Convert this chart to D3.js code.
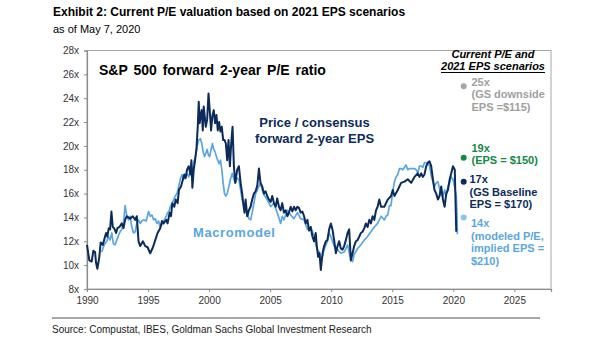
<!DOCTYPE html>
<html>
<head>
<meta charset="utf-8">
<script src="https://cdn.jsdelivr.net/npm/d3@7"></script>
<style>
  body { margin: 0; background: #fff; }
  text { font-family: "Liberation Sans", Arial, sans-serif; }
</style>
</head>
<body>
<svg id="chart" width="605" height="341"></svg>
<script>
// forward 2-year P/E: price / consensus EPS, [year, P/E]
var consensusPE = [
  [1990.00, 11.7], [1990.19, 10.4], [1990.38, 10.3], [1990.52, 11.2], [1990.66, 11.1], [1990.74, 10.2],
  [1990.85, 9.7], [1991.01, 10.7], [1991.12, 11.9], [1991.29, 11.7], [1991.40, 12.1], [1991.56, 12.7],
  [1991.67, 12.4], [1991.78, 13.1], [1991.89, 13.0], [1992.00, 14.5], [1992.11, 13.2], [1992.22, 13.1],
  [1992.38, 12.7], [1992.49, 13.1], [1992.66, 13.2], [1992.85, 13.5], [1992.99, 13.1], [1993.12, 13.8],
  [1993.26, 14.1], [1993.53, 13.9], [1993.75, 14.1], [1993.95, 13.8], [1994.08, 14.1], [1994.22, 12.0],
  [1994.36, 11.6], [1994.58, 12.0], [1994.77, 11.6], [1994.96, 11.5], [1995.18, 11.0], [1995.40, 11.5],
  [1995.59, 12.1], [1995.78, 12.7], [1996.00, 13.1], [1996.14, 13.7], [1996.27, 13.5], [1996.49, 13.8],
  [1996.60, 13.5], [1996.77, 14.4], [1996.88, 14.1], [1996.99, 15.2], [1997.15, 14.9], [1997.26, 15.5],
  [1997.42, 15.2], [1997.53, 16.3], [1997.70, 16.6], [1997.86, 17.2], [1997.97, 17.6], [1998.08, 17.3],
  [1998.19, 18.0], [1998.33, 18.3], [1998.47, 17.6], [1998.55, 18.8], [1998.63, 16.5], [1998.74, 18.0],
  [1998.85, 18.8], [1998.96, 19.7], [1999.07, 21.6], [1999.15, 23.7], [1999.23, 21.9], [1999.32, 22.7],
  [1999.40, 23.0], [1999.48, 21.3], [1999.56, 23.3], [1999.64, 22.5], [1999.73, 21.6], [1999.84, 22.2],
  [1999.95, 24.4], [2000.05, 23.0], [2000.16, 21.3], [2000.27, 22.5], [2000.38, 23.0], [2000.49, 21.9],
  [2000.60, 22.6], [2000.71, 21.3], [2000.82, 22.0], [2000.93, 21.2], [2001.04, 21.6], [2001.15, 20.5],
  [2001.26, 20.5], [2001.37, 20.2], [2001.48, 18.8], [2001.59, 20.5], [2001.70, 18.3], [2001.81, 20.2],
  [2001.92, 21.6], [2002.03, 18.3], [2002.14, 16.9], [2002.30, 18.0], [2002.44, 18.3], [2002.58, 16.9],
  [2002.71, 16.0], [2002.79, 15.2], [2002.90, 14.4], [2002.99, 15.5], [2003.12, 14.1], [2003.26, 14.6],
  [2003.40, 14.9], [2003.53, 15.5], [2003.67, 16.0], [2003.81, 16.2], [2003.95, 16.7], [2004.08, 18.1],
  [2004.21, 16.9], [2004.35, 16.6], [2004.49, 16.0], [2004.62, 16.2], [2004.76, 15.8], [2004.90, 15.5],
  [2005.04, 15.3], [2005.17, 15.8], [2005.31, 15.2], [2005.45, 14.9], [2005.58, 15.6], [2005.72, 14.9],
  [2005.86, 14.6], [2005.99, 15.2], [2006.13, 14.4], [2006.27, 14.6], [2006.41, 14.1], [2006.54, 14.4],
  [2006.68, 14.9], [2006.82, 14.5], [2006.95, 14.9], [2007.09, 14.6], [2007.23, 14.9], [2007.36, 14.8],
  [2007.50, 14.4], [2007.64, 14.5], [2007.78, 14.1], [2007.91, 13.5], [2008.05, 13.8], [2008.19, 12.9],
  [2008.32, 13.2], [2008.46, 12.4], [2008.60, 12.0], [2008.73, 12.7], [2008.82, 11.6], [2008.93, 10.7],
  [2009.04, 11.0], [2009.15, 9.6], [2009.23, 10.4], [2009.31, 11.1], [2009.42, 11.6], [2009.56, 12.0],
  [2009.69, 12.1], [2009.83, 13.0], [2009.97, 13.5], [2010.10, 13.0], [2010.24, 12.1], [2010.38, 11.0],
  [2010.52, 11.6], [2010.65, 12.0], [2010.79, 11.4], [2010.93, 11.3], [2011.06, 11.6], [2011.20, 12.1],
  [2011.34, 12.7], [2011.47, 13.0], [2011.61, 10.4], [2011.75, 11.0], [2011.88, 11.6], [2012.02, 12.0],
  [2012.16, 12.1], [2012.30, 12.4], [2012.43, 12.7], [2012.57, 12.8], [2012.71, 13.1], [2012.84, 13.5],
  [2012.98, 13.2], [2013.12, 13.8], [2013.25, 13.5], [2013.39, 14.1], [2013.53, 13.8], [2013.67, 14.6],
  [2013.80, 14.9], [2013.94, 15.5], [2014.08, 14.9], [2014.35, 14.9], [2014.63, 15.5], [2014.90, 15.8],
  [2015.04, 16.3], [2015.18, 15.8], [2015.45, 16.3], [2015.72, 16.9], [2016.00, 17.0], [2016.27, 17.2],
  [2016.55, 16.9], [2016.82, 17.4], [2017.09, 17.7], [2017.23, 17.4], [2017.37, 17.7], [2017.50, 17.4],
  [2017.64, 17.6], [2017.78, 18.3], [2017.92, 18.6], [2018.05, 18.7], [2018.19, 18.3], [2018.33, 17.2],
  [2018.46, 16.3], [2018.60, 16.0], [2018.74, 15.5], [2018.87, 15.8], [2019.01, 16.6], [2019.15, 15.5],
  [2019.29, 14.9], [2019.42, 16.0], [2019.56, 16.3], [2019.70, 17.2], [2019.83, 17.7], [2019.97, 18.3],
  [2020.12, 18.0], [2020.24, 12.8]
];

// macro model P/E, [year, P/E]
var macroPE = [
  [1991.21, 11.1], [1991.40, 11.7], [1991.62, 12.0], [1991.75, 12.4], [1991.89, 12.1], [1992.03, 12.7],
  [1992.16, 11.8], [1992.30, 11.7], [1992.44, 12.1], [1992.66, 12.7], [1992.85, 13.0], [1992.99, 13.5],
  [1993.12, 15.0], [1993.26, 14.1], [1993.40, 13.8], [1993.53, 14.1], [1993.67, 13.2], [1993.81, 12.7],
  [1993.95, 12.8], [1994.08, 13.5], [1994.22, 13.8], [1994.36, 13.5], [1994.49, 13.7], [1994.63, 13.8],
  [1994.85, 13.7], [1995.04, 14.5], [1995.18, 14.1], [1995.32, 14.2], [1995.45, 13.8], [1995.59, 13.9],
  [1995.73, 13.5], [1995.86, 13.7], [1996.00, 13.2], [1996.14, 13.4], [1996.33, 13.8], [1996.49, 14.1],
  [1996.60, 14.4], [1996.71, 14.5], [1996.82, 14.9], [1996.96, 15.2], [1997.10, 15.5], [1997.23, 15.8],
  [1997.37, 16.0], [1997.51, 16.6], [1997.64, 17.2], [1997.78, 17.6], [1997.92, 17.2], [1998.05, 17.4],
  [1998.19, 17.7], [1998.33, 17.4], [1998.47, 17.9], [1998.60, 17.7], [1998.74, 18.6], [1998.88, 19.1],
  [1999.01, 19.9], [1999.15, 20.5], [1999.29, 20.6], [1999.40, 20.2], [1999.51, 19.5], [1999.62, 19.1],
  [1999.73, 19.4], [1999.84, 19.7], [1999.95, 19.2], [2000.05, 19.1], [2000.16, 19.7], [2000.27, 20.2],
  [2000.38, 19.7], [2000.49, 19.5], [2000.60, 19.1], [2000.71, 18.8], [2000.82, 18.5], [2000.93, 18.8],
  [2001.04, 18.0], [2001.15, 16.9], [2001.26, 16.0], [2001.37, 15.8], [2001.48, 16.0], [2001.62, 16.6],
  [2001.75, 17.2], [2001.89, 17.7], [2002.03, 17.2], [2002.16, 16.9], [2002.30, 17.3], [2002.44, 17.2],
  [2002.58, 16.3], [2002.71, 15.5], [2002.85, 15.2], [2002.99, 14.9], [2003.12, 14.4], [2003.26, 13.9],
  [2003.40, 13.8], [2003.53, 14.4], [2003.67, 15.2], [2003.81, 16.0], [2003.95, 16.3], [2004.08, 16.6],
  [2004.21, 16.9], [2004.35, 16.3], [2004.49, 15.9], [2004.76, 15.5], [2005.04, 14.9], [2005.31, 15.2],
  [2005.58, 14.4], [2005.86, 13.5], [2005.99, 14.1], [2006.13, 13.8], [2006.41, 14.6], [2006.68, 14.2],
  [2006.95, 13.9], [2007.23, 14.4], [2007.50, 13.9], [2007.78, 13.8], [2008.05, 13.0], [2008.32, 13.2],
  [2008.60, 12.4], [2008.73, 11.8], [2008.87, 11.3], [2009.01, 11.1], [2009.15, 10.6], [2009.28, 10.7],
  [2009.42, 11.3], [2009.56, 11.7], [2009.69, 12.0], [2009.83, 12.7], [2009.97, 12.4], [2010.24, 11.6],
  [2010.52, 11.3], [2010.79, 11.0], [2011.06, 11.1], [2011.34, 11.7], [2011.61, 10.4], [2011.75, 10.3],
  [2011.88, 10.9], [2012.16, 11.4], [2012.43, 11.7], [2012.71, 12.1], [2012.98, 12.4], [2013.25, 12.8],
  [2013.53, 13.2], [2013.80, 13.5], [2014.08, 14.1], [2014.35, 13.8], [2014.49, 14.1], [2014.63, 14.2],
  [2014.77, 15.0], [2014.90, 15.0], [2015.04, 16.2], [2015.18, 17.0], [2015.31, 17.4], [2015.45, 17.6],
  [2015.59, 18.1], [2015.72, 18.1], [2015.86, 18.0], [2016.00, 18.2], [2016.13, 18.4], [2016.27, 18.0],
  [2016.41, 18.1], [2016.55, 18.1], [2016.68, 18.1], [2016.82, 18.1], [2016.96, 18.0], [2017.09, 17.7],
  [2017.23, 18.3], [2017.37, 18.3], [2017.50, 18.2], [2017.64, 18.6], [2017.78, 18.6], [2017.91, 18.5],
  [2018.05, 18.3], [2018.19, 17.5], [2018.33, 17.0], [2018.46, 16.6], [2018.60, 16.9], [2018.74, 17.0],
  [2018.87, 16.4], [2019.01, 15.9], [2019.15, 15.8], [2019.29, 16.3], [2019.42, 15.8], [2019.56, 16.6],
  [2019.70, 16.9], [2019.83, 17.4], [2019.97, 17.2], [2020.10, 16.6], [2020.24, 15.8], [2020.30, 14.3],
  [2020.33, 12.6]
];

// current P/E under each 2021 EPS scenario
var scenarioYear = 2020.85;
var scenarioPE = [25, 19, 17, 14];
var scenarioText = [
  ["25x", "(GS downside", "EPS =$115)"],
  ["19x", "(EPS = $150)"],
  ["17x", "(GS Baseline", "EPS = $170)"],
  ["14x", "(modeled P/E,", "implied EPS =", "$210)"]
];

var xTicks = [1990, 1995, 2000, 2005, 2010, 2015, 2020, 2025];
var yTicks = [8, 10, 12, 14, 16, 18, 20, 22, 24, 26, 28];

var navy = "#0c2b5c";
var lightBlue = "#5aa6e2";
var scenarioColors = ["#a6a6a6", "#118a44", navy, "#8fc3ec"];
var scenarioTextColors = ["#a0a0a0", "#118a44", navy, lightBlue];

var svg = d3.select("#chart");

var plotLeft = 87, plotRight = 551, plotTop = 50.5, plotBottom = 289;

var x = d3.scaleLinear().domain([1990, 2028]).range([plotLeft, plotRight]);
var y = d3.scaleLinear().domain([8, 28]).range([plotBottom, plotTop]);

// headings
svg.append("text")
  .attr("x", 53).attr("y", 16)
  .style("font-size", "12px").style("font-weight", "bold")
  .attr("fill", "#000")
  .text("Exhibit 2: Current P/E valuation based on 2021 EPS scenarios");
svg.append("text")
  .attr("x", 53).attr("y", 33)
  .style("font-size", "11px")
  .attr("fill", "#000")
  .text("as of May 7, 2020");

// plot frame
svg.append("rect")
  .attr("x", plotLeft).attr("y", plotTop)
  .attr("width", plotRight - plotLeft).attr("height", plotBottom - plotTop)
  .attr("fill", "none")
  .attr("stroke", "#a6a6a6")
  .attr("stroke-width", 1);

var yAxis = d3.axisLeft(y)
  .tickValues(yTicks)
  .tickSize(3)
  .tickPadding(5)
  .tickFormat(function (d) { return d + "x"; });
var gy = svg.append("g")
  .attr("transform", "translate(" + plotLeft + ",0)")
  .call(yAxis);

var xAxis = d3.axisBottom(x)
  .tickValues(xTicks)
  .tickSize(3)
  .tickPadding(5)
  .tickFormat(d3.format("d"));
var gx = svg.append("g")
  .attr("transform", "translate(0," + plotBottom + ")")
  .call(xAxis);

[gx, gy].forEach(function (g) {
  g.select(".domain").attr("stroke", "#8c8c8c").attr("stroke-width", 1.2);
  g.selectAll(".tick line").attr("stroke", "#8c8c8c");
  g.selectAll(".tick text")
    .attr("fill", "#333")
    .style("font-size", "10px")
    .style("font-family", "'Liberation Sans', Arial, sans-serif");
});

// series
var line = d3.line()
  .x(function (d) { return x(d[0]); })
  .y(function (d) { return y(d[1]); });

svg.append("path")
  .datum(macroPE)
  .attr("d", line)
  .attr("fill", "none")
  .attr("stroke", lightBlue)
  .attr("stroke-width", 1.7)
  .attr("stroke-linejoin", "round");

svg.append("path")
  .datum(consensusPE)
  .attr("d", line)
  .attr("fill", "none")
  .attr("stroke", navy)
  .attr("stroke-width", 2)
  .attr("stroke-linejoin", "round");

// in-chart labels
svg.append("text")
  .attr("x", 99).attr("y", 74.5)
  .style("font-size", "14px").style("font-weight", "bold")
  .style("word-spacing", "2px")
  .attr("fill", "#000")
  .text("S&P 500 forward 2-year P/E ratio");

svg.append("text")
  .attr("x", 314.5).attr("y", 127)
  .attr("text-anchor", "middle")
  .style("font-size", "13px").style("font-weight", "bold")
  .attr("fill", navy)
  .text("Price / consensus");
svg.append("text")
  .attr("x", 314.5).attr("y", 142.5)
  .attr("text-anchor", "middle")
  .style("font-size", "13px").style("font-weight", "bold")
  .attr("fill", navy)
  .text("forward 2-year EPS");

svg.append("text")
  .attr("x", 193).attr("y", 237)
  .style("font-size", "13px").style("font-weight", "bold")
  .style("letter-spacing", "0.6px")
  .attr("fill", lightBlue)
  .text("Macromodel");

// scenario panel
svg.append("text")
  .attr("x", 493).attr("y", 57.5)
  .attr("text-anchor", "middle")
  .style("font-size", "11px").style("font-weight", "bold").style("font-style", "italic")
  .attr("fill", "#000")
  .text("Current P/E and");
var sub = svg.append("text")
  .attr("x", 493).attr("y", 70)
  .attr("text-anchor", "middle")
  .style("font-size", "11px").style("font-weight", "bold").style("font-style", "italic")
  .attr("fill", "#000")
  .text("2021 EPS scenarios");
var subW = sub.node().getComputedTextLength();
svg.append("line")
  .attr("x1", 493 - subW / 2).attr("x2", 493 + subW / 2)
  .attr("y1", 72.5).attr("y2", 72.5)
  .attr("stroke", "#000").attr("stroke-width", 1);

svg.selectAll(".scenario-dot")
  .data(scenarioPE)
  .enter()
  .append("circle")
  .attr("class", "scenario-dot")
  .attr("cx", x(scenarioYear))
  .attr("cy", function (d) { return y(d); })
  .attr("r", 3)
  .attr("fill", function (d, i) { return scenarioColors[i]; });

var labelTop = [85.7, 151.7, 183.3, 227.3];
var labelX = [471.5, 471.5, 469.5, 471];
scenarioText.forEach(function (lines, i) {
  var t = svg.append("text")
    .attr("x", labelX[i]).attr("y", labelTop[i])
    .style("font-size", "11px").style("font-weight", "bold")
    .attr("fill", scenarioTextColors[i]);
  lines.forEach(function (s, j) {
    t.append("tspan")
      .attr("x", labelX[i])
      .attr("dy", j === 0 ? 0 : 12.4)
      .text(s);
  });
});

// footer
svg.append("line")
  .attr("x1", 52).attr("x2", 540)
  .attr("y1", 318).attr("y2", 318)
  .attr("stroke", "#a6a6a6").attr("stroke-width", 2);
svg.append("text")
  .attr("x", 52).attr("y", 333)
  .style("font-size", "10px")
  .attr("fill", "#1a1a1a")
  .text("Source: Compustat, IBES, Goldman Sachs Global Investment Research");
</script>
</body>
</html>
